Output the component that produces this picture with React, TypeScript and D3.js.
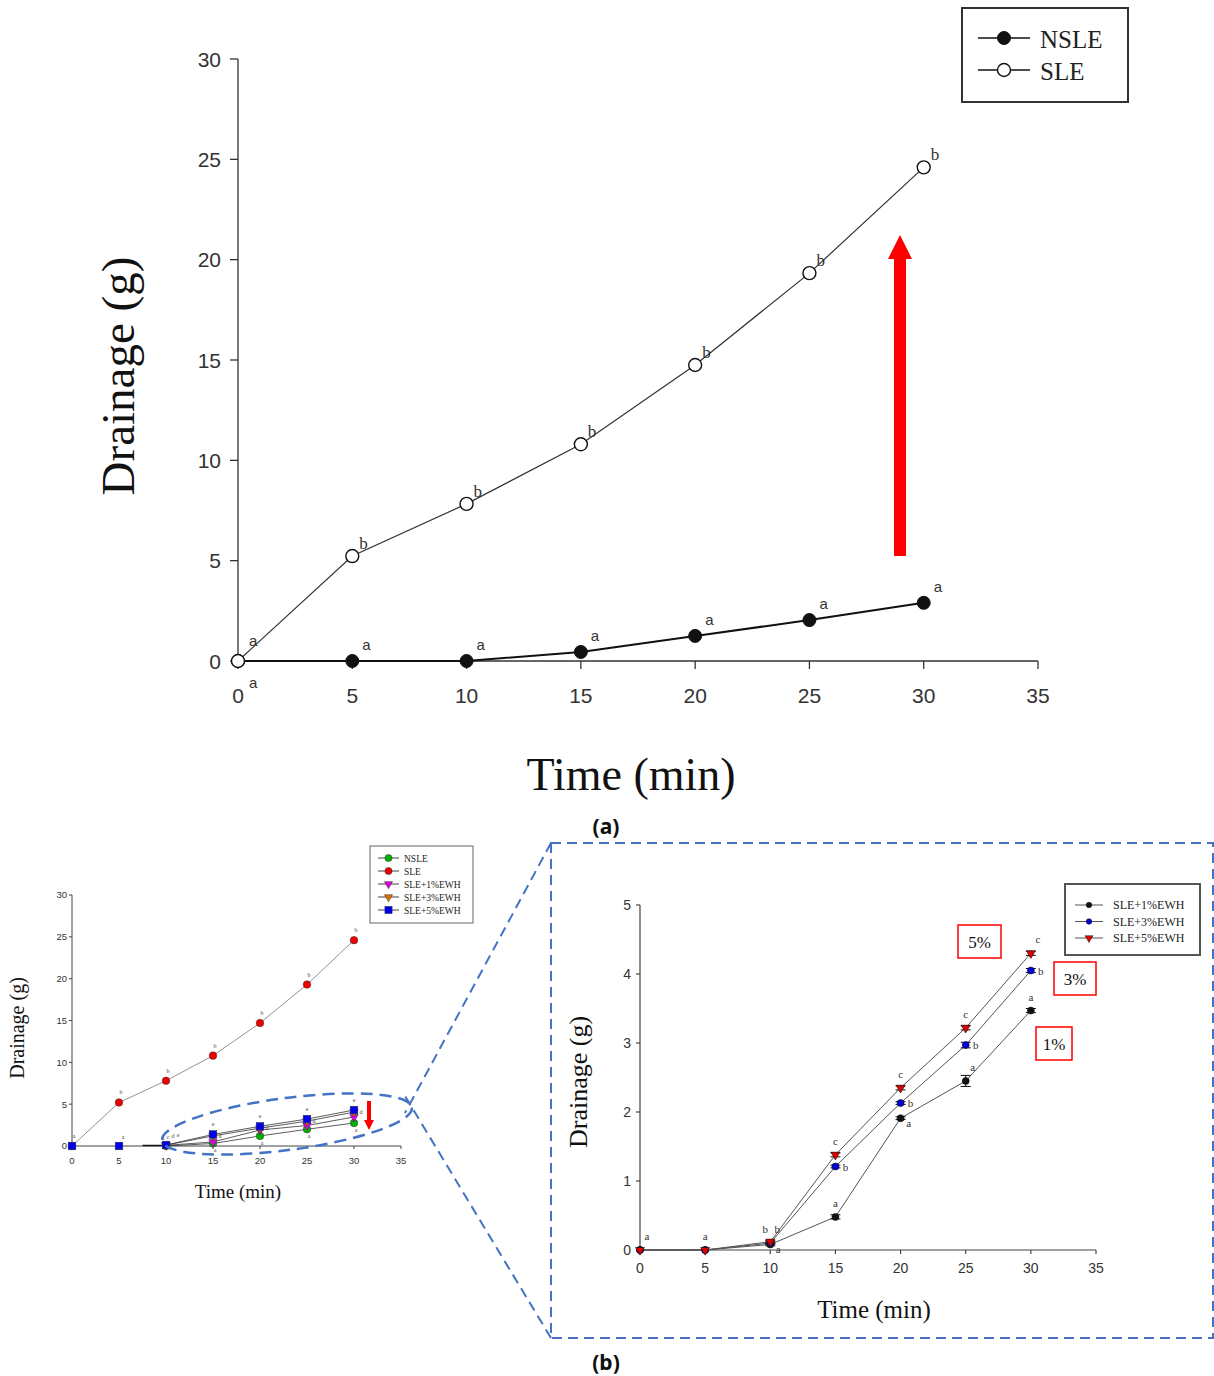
import React from 'react';
import * as d3 from 'd3';

// shared time points
const times = [0, 5, 10, 15, 20, 25, 30];
const xTicks = [0, 5, 10, 15, 20, 25, 30, 35];

// panel (a)
const nsleA = [0, 0, 0, 0.45, 1.25, 2.04, 2.9];
const sleA = [0, 5.23, 7.83, 10.8, 14.75, 19.33, 24.6];
const yTicksA = [0, 5, 10, 15, 20, 25, 30];
const nsleLettersA = ['', 'a', 'a', 'a', 'a', 'a', 'a'];
const sleLettersA = ['a', 'b', 'b', 'b', 'b', 'b', 'b'];

// panel (b) overview
const nsleB = [0, 0, 0, 0.3, 1.2, 2.0, 2.75];
const sleB = [0, 5.2, 7.8, 10.8, 14.7, 19.3, 24.6];
const ewh1B = [0, 0, 0.08, 0.48, 1.91, 2.45, 3.47];
const ewh3B = [0, 0, 0.1, 1.21, 2.13, 2.97, 4.05];
const ewh5B = [0, 0, 0.12, 1.38, 2.35, 3.22, 4.3];
const yTicksB = [0, 5, 10, 15, 20, 25, 30];
const overviewNames = ['NSLE', 'SLE', 'SLE+1%EWH', 'SLE+3%EWH', 'SLE+5%EWH'];

// panel (b) zoom
const ewh1 = [0, 0, 0.08, 0.48, 1.91, 2.45, 3.47];
const ewh3 = [0, 0, 0.1, 1.21, 2.13, 2.97, 4.05];
const ewh5 = [0, 0, 0.12, 1.38, 2.35, 3.22, 4.3];
const ewh1Err = [0, 0, 0.02, 0.03, 0.02, 0.08, 0.03];
const ewh3Err = [0, 0, 0.02, 0.02, 0.02, 0.04, 0.03];
const ewh5Err = [0, 0, 0.02, 0.03, 0.03, 0.03, 0.03];
const ewh1Letters = ['a', 'a', 'a', 'a', 'a', 'a', 'a'];
const ewh3Letters = ['', '', 'b', 'b', 'b', 'b', 'b'];
const ewh5Letters = ['', '', 'b', 'c', 'c', 'c', 'c'];
const yTicksZ = [0, 1, 2, 3, 4, 5];
const zoomNames = ['SLE+1%EWH', 'SLE+3%EWH', 'SLE+5%EWH'];
const pctTags = ['5%', '3%', '1%'];

const SERIF = '"Liberation Serif", "Times New Roman", serif';
const SANS = '"Liberation Sans", Arial, sans-serif';
const BLUE_DASH = '#4472C4';

type Shape = 'dot' | 'open' | 'tri' | 'square';

function Marker({ cx, cy, r, shape, fill, stroke = '#111', sw = 1 }: any) {
  if (shape === 'open') return <circle cx={cx} cy={cy} r={r} fill="#fff" stroke={stroke} strokeWidth={sw} />;
  if (shape === 'dot') return <circle cx={cx} cy={cy} r={r} fill={fill} stroke={stroke} strokeWidth={sw} />;
  if (shape === 'square') return <rect x={cx - r} y={cy - r} width={2 * r} height={2 * r} fill={fill} stroke={stroke} strokeWidth={sw} />;
  const sym = d3.symbol(d3.symbolTriangle, r * r * 2.2)();
  return <path d={sym as string} transform={`translate(${cx},${cy}) rotate(180)`} fill={fill} stroke={stroke} strokeWidth={sw} />;
}

function Axes({ x, y, xt, yt, tick, font, xLabY, yLabX, color = '#333', sw = 1.3 }: any) {
  const [x0, x1] = x.range();
  const [y0, y1] = y.range();
  return (
    <g>
      <line x1={x0} x2={x1} y1={y0} y2={y0} stroke={color} strokeWidth={sw} />
      <line x1={x0} x2={x0} y1={y0} y2={y1} stroke={color} strokeWidth={sw} />
      {xt.map((t: number) => (
        <g key={'x' + t}>
          <line x1={x(t)} x2={x(t)} y1={y0} y2={y0 + tick} stroke={color} strokeWidth={sw} />
          <text x={x(t)} y={xLabY} textAnchor="middle" fontFamily={SANS} fontSize={font} fill="#333">{t}</text>
        </g>
      ))}
      {yt.map((t: number) => (
        <g key={'y' + t}>
          <line x1={x0 - tick} x2={x0} y1={y(t)} y2={y(t)} stroke={color} strokeWidth={sw} />
          <text x={yLabX} y={y(t)} dy="0.36em" textAnchor="end" fontFamily={SANS} fontSize={font} fill="#333">{t}</text>
        </g>
      ))}
    </g>
  );
}

function Arrow({ x, top, bottom, shaft, head, headLen, up }: any) {
  if (up) {
    return <path d={`M${x - shaft / 2},${bottom}V${top + headLen}H${x - head / 2}L${x},${top}L${x + head / 2},${top + headLen}H${x + shaft / 2}V${bottom}Z`} fill="#ff0000" />;
  }
  return <path d={`M${x - shaft / 2},${top}V${bottom - headLen}H${x - head / 2}L${x},${bottom}L${x + head / 2},${bottom - headLen}H${x + shaft / 2}V${top}Z`} fill="#ff0000" />;
}

function PanelA() {
  const x = d3.scaleLinear().domain([0, 35]).range([238, 1038]);
  const y = d3.scaleLinear().domain([0, 30]).range([661, 59]);
  const line = d3.line<number>().x((_, i) => x(times[i])).y((d) => y(d));
  return (
    <g>
      <Axes x={x} y={y} xt={xTicks} yt={yTicksA} tick={8} font={21} xLabY={703} yLabX={221} />
      <path d={line(sleA) as string} fill="none" stroke="#333" strokeWidth={1.2} />
      <path d={line(nsleA) as string} fill="none" stroke="#111" strokeWidth={2} />
      {nsleA.map((v, i) => <Marker key={'n' + i} cx={x(times[i])} cy={y(v)} r={6.5} shape="dot" fill="#111" />)}
      {sleA.map((v, i) => <Marker key={'s' + i} cx={x(times[i])} cy={y(v)} r={6.5} shape="open" sw={1.4} />)}
      {nsleLettersA.map((l, i) => (
        <text key={'nl' + i} x={x(times[i]) + 10} y={y(nsleA[i]) - 11} fontFamily={SANS} fontSize={15} fill="#333">{l}</text>
      ))}
      {sleLettersA.map((l, i) => (
        <text key={'sl' + i} x={x(times[i]) + (i === 0 ? 11 : 7)} y={y(sleA[i]) - (i === 0 ? 15 : 7)} fontFamily={i === 0 ? SANS : SERIF} fontSize={i === 0 ? 15 : 17} fill="#333">{l}</text>
      ))}
      <text x={x(0) + 11} y={y(0) + 27} fontFamily={SANS} fontSize={15} fill="#333">a</text>
      <Arrow x={900} top={235} bottom={556} shaft={12} head={24} headLen={24} up />
      <text transform="translate(134,376) rotate(-90)" textAnchor="middle" fontFamily={SERIF} fontSize={47} fill="#111">Drainage (g)</text>
      <text x={631} y={790} textAnchor="middle" fontFamily={SERIF} fontSize={46} fill="#111">Time (min)</text>
      <g>
        <rect x={962} y={8} width={166} height={94} fill="#fff" stroke="#333" strokeWidth={2} />
        <line x1={978} x2={1030} y1={38} y2={38} stroke="#111" strokeWidth={1.5} />
        <Marker cx={1004} cy={38} r={6.5} shape="dot" fill="#111" />
        <text x={1040} y={48} fontFamily={SERIF} fontSize={25} fill="#222">NSLE</text>
        <line x1={978} x2={1030} y1={70} y2={70} stroke="#111" strokeWidth={1.5} />
        <Marker cx={1004} cy={70} r={6.5} shape="open" sw={1.4} />
        <text x={1040} y={80} fontFamily={SERIF} fontSize={25} fill="#222">SLE</text>
      </g>
      <text x={606} y={834} textAnchor="middle" fontFamily={'"Noto Sans", sans-serif'} fontWeight="bold" fontSize={21} fill="#111">(a)</text>
    </g>
  );
}

function PanelBOverview() {
  const x = d3.scaleLinear().domain([0, 35]).range([72, 401]);
  const y = d3.scaleLinear().domain([0, 30]).range([1146, 895]);
  const line = d3.line<number>().x((_, i) => x(times[i])).y((d) => y(d));
  const series = [
    { v: nsleB, shape: 'dot', fill: '#00b000' },
    { v: sleB, shape: 'dot', fill: '#ee0000' },
    { v: ewh1B, shape: 'tri', fill: '#e000e0' },
    { v: ewh3B, shape: 'tri', fill: '#e07000' },
    { v: ewh5B, shape: 'square', fill: '#0000ee' },
  ];
  const lineFrom = d3.line<number>().x((_, i) => x(times[i + 2])).y((d) => y(d));
  return (
    <g>
      <Axes x={x} y={y} xt={xTicks} yt={yTicksB} tick={3} font={9.5} xLabY={1164} yLabX={67} color="#444" sw={1} />
      <line x1={x(7.5)} x2={x(10)} y1={y(0) - 0.5} y2={y(0) - 0.5} stroke="#111" strokeWidth={1.5} />
      {series.map((s, k) => (
        <path key={'l' + k} d={(k === 1 ? line(s.v) : lineFrom(s.v.slice(2))) as string} fill="none" stroke={k === 1 ? '#777' : '#333'} strokeWidth={0.8} />
      ))}
      {series.map((s, k) => s.v.map((v, i) => {
        if (k !== 1 && k !== 4 && i < 2) return null;
        return <Marker key={`m${k}-${i}`} cx={x(times[i])} cy={y(v)} r={3.8} shape={s.shape as Shape} fill={s.fill} stroke="#333" sw={0.5} />;
      }))}
      {sleB.map((v, i) => (
        <text key={'sb' + i} x={x(times[i]) + 2} y={y(v) - 8} fontFamily={SERIF} fontSize={6} fill="#444" textAnchor="middle">{i === 0 ? 'a' : 'b'}</text>
      ))}
      <text x={x(5) + 4} y={y(0) - 7} fontFamily={SERIF} fontSize={6} fill="#444" textAnchor="middle">a</text>
      {ewh5B.slice(3).map((v, i) => (
        <text key={'eb' + i} x={x(times[i + 3])} y={y(v) - 8} fontFamily={SERIF} fontSize={6} fill="#444" textAnchor="middle">e</text>
      ))}
      {ewh3B.slice(3).map((v, i) => (
        <text key={'db' + i} x={x(times[i + 3]) + 7} y={y(v) + 2} fontFamily={SERIF} fontSize={6} fill="#444" textAnchor="middle">d</text>
      ))}
      {nsleB.slice(3).map((v, i) => (
        <text key={'ab' + i} x={x(times[i + 3]) + 2} y={y(v) + 9} fontFamily={SERIF} fontSize={6} fill="#444" textAnchor="middle">a</text>
      ))}
      {['a', 'c', 'd', 'e'].map((l, i) => (
        <text key={'t10' + i} x={x(10) - 3 + i * 5} y={y(0) - 6 - i} fontFamily={SERIF} fontSize={6} fill="#444" textAnchor="middle">{l}</text>
      ))}
      <g>
        <rect x={370} y={846} width={103} height={77} fill="#fff" stroke="#666" strokeWidth={1} />
        {overviewNames.map((n, i) => (
          <g key={n}>
            <line x1={378} x2={399} y1={858 + i * 13} y2={858 + i * 13} stroke="#444" strokeWidth={1} />
            <Marker cx={388.5} cy={858 + i * 13} r={3.6} shape={series[i].shape as Shape} fill={series[i].fill} stroke="#333" sw={0.5} />
            <text x={404} y={861.5 + i * 13} fontFamily={SERIF} fontSize={9.5} fill="#222">{n}</text>
          </g>
        ))}
      </g>
      <ellipse cx={287} cy={1124} rx={126} ry={26} transform="rotate(-7.5 287 1124)" fill="none" stroke={BLUE_DASH} strokeWidth={2.5} strokeDasharray="12,7" />
      <Arrow x={369} top={1101} bottom={1130} shaft={4} head={10} headLen={10} up={false} />
      <text transform="translate(24,1028) rotate(-90)" textAnchor="middle" fontFamily={SERIF} fontSize={20} fill="#111">Drainage (g)</text>
      <text x={238} y={1198} textAnchor="middle" fontFamily={SERIF} fontSize={19} fill="#111">Time (min)</text>
    </g>
  );
}

function PanelBZoom() {
  const x = d3.scaleLinear().domain([0, 35]).range([640, 1096]);
  const y = d3.scaleLinear().domain([0, 5]).range([1250, 905]);
  const line = d3.line<number>().x((_, i) => x(times[i])).y((d) => y(d));
  const series = [
    { v: ewh1, e: ewh1Err, shape: 'dot', fill: '#111', letters: ewh1Letters, place: ['ne', 'n', 'se', 'n', 'se', 'ne', 'n'] },
    { v: ewh3, e: ewh3Err, shape: 'dot', fill: '#0000dd', letters: ewh3Letters, place: ['', '', 'ne', 'e', 'e', 'e', 'e'] },
    { v: ewh5, e: ewh5Err, shape: 'tri', fill: '#dd0000', letters: ewh5Letters, place: ['', '', 'nw', 'n', 'n', 'n', 'ne'] },
  ];
  const off: any = { n: [0, -10], ne: [7, -10], e: [10, 4], se: [8, 9], nw: [-5, -9] };
  return (
    <g>
      <Axes x={x} y={y} xt={xTicks} yt={yTicksZ} tick={4} font={14} xLabY={1273} yLabX={631} color="#444" sw={1.2} />
      {series.map((s, k) => <path key={'l' + k} d={line(s.v) as string} fill="none" stroke="#555" strokeWidth={1} />)}
      {series.map((s, k) => s.v.map((v, i) => (
        <g key={`e${k}-${i}`}>
          {s.e[i] > 0 && (
            <g stroke="#111" strokeWidth={1}>
              <line x1={x(times[i])} x2={x(times[i])} y1={y(v - s.e[i])} y2={y(v + s.e[i])} />
              <line x1={x(times[i]) - 5} x2={x(times[i]) + 5} y1={y(v - s.e[i])} y2={y(v - s.e[i])} />
              <line x1={x(times[i]) - 5} x2={x(times[i]) + 5} y1={y(v + s.e[i])} y2={y(v + s.e[i])} />
            </g>
          )}
          <Marker cx={x(times[i])} cy={y(v)} r={s.shape === 'tri' ? 4 : 3.5} shape={s.shape as Shape} fill={s.fill} stroke="#111" sw={0.6} />
        </g>
      )))}
      {series.map((s, k) => s.letters.map((l, i) => {
        if (!l) return null;
        const o = off[s.place[i]];
        return <text key={`t${k}-${i}`} x={x(times[i]) + o[0]} y={y(s.v[i]) + o[1]} textAnchor="middle" fontFamily={SERIF} fontSize={11} fill="#333">{l}</text>;
      }))}
      <g>
        <rect x={1065} y={884} width={135} height={71} fill="#fff" stroke="#555" strokeWidth={2} />
        {zoomNames.map((n, i) => (
          <g key={n}>
            <line x1={1075} x2={1103} y1={905 + i * 16.5} y2={905 + i * 16.5} stroke="#555" strokeWidth={1} />
            <Marker cx={1089} cy={905 + i * 16.5} r={series[i].shape === 'tri' ? 3.5 : 2.8} shape={series[i].shape as Shape} fill={series[i].fill} stroke="#111" sw={0.5} />
            <text x={1113} y={909 + i * 16.5} fontFamily={SERIF} fontSize={12} fill="#222">{n}</text>
          </g>
        ))}
      </g>
      {pctTags.map((t, i) => {
        const boxes = [[958, 925, 43], [1054, 962, 42], [1036, 1027, 36]];
        const [bx, by, bw] = boxes[i];
        return (
          <g key={t}>
            <rect x={bx} y={by} width={bw} height={33} fill="#fff" stroke="#ff0000" strokeWidth={1.5} />
            <text x={bx + bw / 2} y={by + 23} textAnchor="middle" fontFamily={SERIF} fontSize={17} fill="#111">{t}</text>
          </g>
        );
      })}
      <text transform="translate(587,1082) rotate(-90)" textAnchor="middle" fontFamily={SERIF} fontSize={26} fill="#111">Drainage (g)</text>
      <text x={874} y={1318} textAnchor="middle" fontFamily={SERIF} fontSize={25} fill="#111">Time (min)</text>
    </g>
  );
}

export default function App() {
  return (
    <svg width={1214} height={1376} style={{ position: 'absolute', left: 0, top: 0, background: '#fff' }}>
      <rect width={1214} height={1376} fill="#fff" />
      <PanelA />
      <PanelBOverview />
      <rect x={551} y={843} width={662} height={495} fill="none" stroke={BLUE_DASH} strokeWidth={2} strokeDasharray="10,6" />
      <line x1={551} y1={843} x2={405} y2={1113} stroke={BLUE_DASH} strokeWidth={2} strokeDasharray="10,6" />
      <line x1={551} y1={1338} x2={405} y2={1096} stroke={BLUE_DASH} strokeWidth={2} strokeDasharray="10,6" />
      <PanelBZoom />
      <text x={606} y={1370} textAnchor="middle" fontFamily={'"Noto Sans", sans-serif'} fontWeight="bold" fontSize={21} fill="#111">(b)</text>
    </svg>
  );
}
